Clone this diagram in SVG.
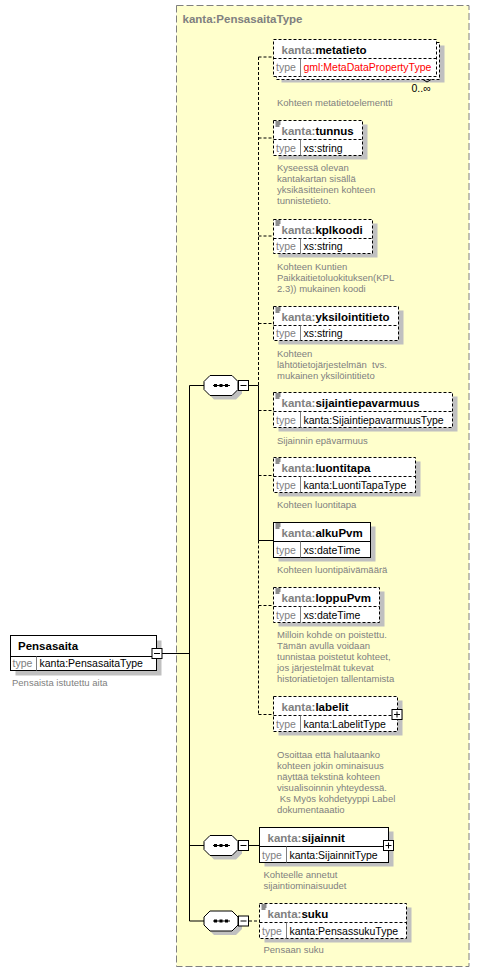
<svg xmlns="http://www.w3.org/2000/svg" width="480" height="973" viewBox="0 0 480 973">
<style>
text{font-family:"Liberation Sans",Arial,sans-serif}
.bg{fill:#ffffff}
.frame{fill:#ffffcc;stroke:#808080;stroke-width:1;stroke-dasharray:7,3}
.title{font-size:11.5px;font-weight:bold;fill:#808080}
.sh{fill:#c0c0c0}
.box{fill:#ffffff;stroke:#000000;stroke-width:1}
.opt{stroke-dasharray:3,2}
.ln{stroke:#000000;stroke-width:1;fill:none}
.dl{stroke:#000000;stroke-width:1;fill:none;stroke-dasharray:3,2}
.sep{stroke:#000000;stroke-width:1}
.csep{stroke:#808080;stroke-width:1}
.hd{font-size:11.5px;font-weight:bold;fill:#000000}
.ns{fill:#808080}
.tl{font-size:10.5px;fill:#808080}
.tv{font-size:10.5px;fill:#000000}
.red{fill:#ff0000}
.ds{font-size:9.5px;fill:#808080}
.mul{font-size:10.5px;fill:#000000}
.ic{stroke:#000000;stroke-width:0.9}
.oct{fill:#ffffff;stroke:#000000;stroke-width:1}
.octsh{fill:#c0c0c0}
</style>
<defs>
<g id="icon"><line class="ic" x1="0" y1="0.5" x2="5" y2="0.5"/><line class="ic" x1="0" y1="2.5" x2="5" y2="2.5"/><line class="ic" x1="0" y1="4.5" x2="4" y2="4.5"/></g>
<g id="seq">
<polygon class="octsh" points="10,4 32,4 38,10 38,18 32,24 10,24 4,18 4,10"/>
<polygon class="oct" points="6,0 28,0 34,6 34,14 28,20 6,20 0,14 0,6"/>
<line class="ln" x1="9" y1="10" x2="26" y2="10"/>
<rect x="10" y="8.5" width="3" height="3" fill="#000"/>
<rect x="15.5" y="8.5" width="3" height="3" fill="#000"/>
<rect x="21" y="8.5" width="3" height="3" fill="#000"/>
<rect class="box" x="34.5" y="5" width="10" height="10"/>
<line class="ln" x1="36.5" y1="10" x2="42.5" y2="10"/>
</g>
<g id="minus"><rect class="box" x="-5" y="-5" width="10" height="10"/><line class="ln" x1="-3" y1="0" x2="3" y2="0"/></g>
<g id="plus"><rect class="box" x="-5" y="-5" width="10" height="10"/><line class="ln" x1="-3" y1="0" x2="3" y2="0"/><line class="ln" x1="0" y1="-3" x2="0" y2="3"/></g>
</defs>
<rect class="bg" x="0" y="0" width="480" height="973"/>
<g id="complexType">
<rect class="frame" x="176.5" y="5.5" width="292.5" height="961"/>
<text class="title" x="182.5" y="23">kanta:PensasaitaType</text>
</g>

<g id="connectors">
<line class="ln" x1="162" y1="653.5" x2="189.5" y2="653.5"/>
<line class="ln" x1="189.5" y1="385.5" x2="189.5" y2="921"/>
<line class="ln" x1="189.5" y1="385.5" x2="204" y2="385.5"/>
<line class="ln" x1="189.5" y1="845.5" x2="204" y2="845.5"/>
<line class="ln" x1="189.5" y1="921" x2="204" y2="921"/>
<line class="ln" x1="249" y1="385.5" x2="258.5" y2="385.5"/>
<line class="dl" x1="258.5" y1="57" x2="258.5" y2="385.5"/>
<line class="ln" x1="258.5" y1="385.5" x2="258.5" y2="540.5"/>
<line class="dl" x1="258.5" y1="540.5" x2="258.5" y2="714.5"/>
<line class="dl" x1="258.5" y1="57" x2="273.5" y2="57"/>
<line class="dl" x1="258.5" y1="138" x2="273.5" y2="138"/>
<line class="dl" x1="258.5" y1="236" x2="273.5" y2="236"/>
<line class="dl" x1="258.5" y1="323.5" x2="273.5" y2="323.5"/>
<line class="dl" x1="258.5" y1="410.5" x2="273.5" y2="410.5"/>
<line class="dl" x1="258.5" y1="475.5" x2="273.5" y2="475.5"/>
<line class="ln" x1="258.5" y1="540.5" x2="273.5" y2="540.5"/>
<line class="dl" x1="258.5" y1="605.5" x2="273.5" y2="605.5"/>
<line class="dl" x1="258.5" y1="714.5" x2="273.5" y2="714.5"/>
<line class="ln" x1="249" y1="845.5" x2="259.5" y2="845.5"/>
<line class="dl" x1="249" y1="921" x2="259.5" y2="921"/>
</g>

<g id="seq1"><use href="#seq" x="204" y="375.5"/></g>
<g id="seq2"><use href="#seq" x="204" y="835.5"/></g>
<g id="seq3"><use href="#seq" x="204" y="911"/></g>

<g id="Pensasaita">
<rect class="sh" x="15.5" y="640.5" width="146" height="35"/>
<rect class="box" x="10.5" y="635.5" width="146" height="35"/>
<line class="sep" x1="10.5" y1="656.5" x2="156.5" y2="656.5"/>
<line class="csep" x1="36.5" y1="656.5" x2="36.5" y2="670.5"/>
<text class="hd" x="18" y="650">Pensasaita</text>
<text class="tl" x="12.5" y="667">type</text>
<text class="tv" x="39.5" y="667">kanta:PensasaitaType</text>
<use href="#minus" x="157" y="653.5"/>
<text class="ds" x="12" y="685.5">Pensaista istutettu aita</text>
</g>

<g id="metatieto">
<rect class="sh" x="281.5" y="45.5" width="163" height="37"/>
<rect class="box opt" x="276.5" y="42.5" width="163" height="37"/>
<rect class="box opt" x="273.5" y="39.5" width="163" height="37"/>
<line class="sep opt" x1="273.5" y1="58.5" x2="436.5" y2="58.5"/>
<line class="csep" x1="300.5" y1="58.5" x2="300.5" y2="76.5"/>
<text class="hd" x="281.5" y="53.5"><tspan class="ns">kanta:</tspan>metatieto</text>
<text class="tl" x="276" y="71">type</text>
<text class="tv red" x="303.5" y="71">gml:MetaDataPropertyType</text>
<polyline class="ln" points="423,79.5 427,82 431,79.5"/>
<text class="mul" x="411.5" y="91.5">0..∞</text>
<text class="ds" x="277" y="105.5">Kohteen metatietoelementti</text>
</g>

<g id="tunnus">
<rect class="sh" x="278.5" y="124.5" width="89" height="35"/>
<rect class="box opt" x="273.5" y="120.5" width="89" height="35"/>
<line class="sep opt" x1="273.5" y1="139.5" x2="362.5" y2="139.5"/>
<line class="csep" x1="300.5" y1="139.5" x2="300.5" y2="155.5"/>
<use href="#icon" x="275.5" y="121.5"/>
<text class="hd" x="281.5" y="134.5"><tspan class="ns">kanta:</tspan>tunnus</text>
<text class="tl" x="276" y="152">type</text>
<text class="tv" x="303.5" y="152">xs:string</text>
<text class="ds"><tspan x="277" y="171">Kyseessä olevan</tspan><tspan x="277" y="182">kantakartan sisällä</tspan><tspan x="277" y="193">yksikäsitteinen kohteen</tspan><tspan x="277" y="204">tunnistetieto.</tspan></text>
</g>

<g id="kplkoodi">
<rect class="sh" x="278.5" y="223.5" width="99" height="34"/>
<rect class="box opt" x="273.5" y="219.5" width="99" height="34"/>
<line class="sep opt" x1="273.5" y1="238.5" x2="372.5" y2="238.5"/>
<line class="csep" x1="300.5" y1="238.5" x2="300.5" y2="253.5"/>
<use href="#icon" x="275.5" y="220.5"/>
<text class="hd" x="281.5" y="233.5"><tspan class="ns">kanta:</tspan>kplkoodi</text>
<text class="tl" x="276" y="250">type</text>
<text class="tv" x="303.5" y="250">xs:string</text>
<text class="ds"><tspan x="277" y="269.5">Kohteen Kuntien</tspan><tspan x="277" y="280.5">Paikkaitietoluokituksen(KPL</tspan><tspan x="277" y="291.5">2.3)) mukainen koodi</tspan></text>
</g>

<g id="yksilointitieto">
<rect class="sh" x="278.5" y="310.5" width="125" height="34"/>
<rect class="box opt" x="273.5" y="306.5" width="125" height="34"/>
<line class="sep opt" x1="273.5" y1="325.5" x2="398.5" y2="325.5"/>
<line class="csep" x1="300.5" y1="325.5" x2="300.5" y2="340.5"/>
<use href="#icon" x="275.5" y="307.5"/>
<text class="hd" x="281.5" y="320.5"><tspan class="ns">kanta:</tspan>yksilointitieto</text>
<text class="tl" x="276" y="337">type</text>
<text class="tv" x="303.5" y="337">xs:string</text>
<text class="ds" xml:space="preserve"><tspan x="277" y="356.5">Kohteen</tspan><tspan x="277" y="367.5">lähtötietojärjestelmän  tvs.</tspan><tspan x="277" y="378.5">mukainen yksilöintitieto</tspan></text>
</g>

<g id="sijaintiepavarmuus">
<rect class="sh" x="278.5" y="396.5" width="179" height="35"/>
<rect class="box opt" x="273.5" y="392.5" width="179" height="35"/>
<line class="sep opt" x1="273.5" y1="411.5" x2="452.5" y2="411.5"/>
<line class="csep" x1="300.5" y1="411.5" x2="300.5" y2="427.5"/>
<use href="#icon" x="275.5" y="393.5"/>
<text class="hd" x="281.5" y="406.5"><tspan class="ns">kanta:</tspan>sijaintiepavarmuus</text>
<text class="tl" x="276" y="424">type</text>
<text class="tv" x="303.5" y="424">kanta:SijaintiepavarmuusType</text>
<text class="ds" x="277" y="443.5">Sijainnin epävarmuus</text>
</g>

<g id="luontitapa">
<rect class="sh" x="278.5" y="461.5" width="142" height="35"/>
<rect class="box opt" x="273.5" y="457.5" width="142" height="35"/>
<line class="sep opt" x1="273.5" y1="476.5" x2="415.5" y2="476.5"/>
<line class="csep" x1="300.5" y1="476.5" x2="300.5" y2="492.5"/>
<use href="#icon" x="275.5" y="458.5"/>
<text class="hd" x="281.5" y="471.5"><tspan class="ns">kanta:</tspan>luontitapa</text>
<text class="tl" x="276" y="489">type</text>
<text class="tv" x="303.5" y="489">kanta:LuontiTapaType</text>
<text class="ds" x="277" y="508">Kohteen luontitapa</text>
</g>

<g id="alkuPvm">
<rect class="sh" x="278.5" y="526.5" width="97" height="35"/>
<rect class="box" x="273.5" y="522.5" width="97" height="35"/>
<line class="sep" x1="273.5" y1="541.5" x2="370.5" y2="541.5"/>
<line class="csep" x1="300.5" y1="541.5" x2="300.5" y2="557.5"/>
<use href="#icon" x="275.5" y="523.5"/>
<text class="hd" x="281.5" y="536.5"><tspan class="ns">kanta:</tspan>alkuPvm</text>
<text class="tl" x="276" y="554">type</text>
<text class="tv" x="303.5" y="554">xs:dateTime</text>
<text class="ds" x="277" y="573">Kohteen luontipäivämäärä</text>
</g>

<g id="loppuPvm">
<rect class="sh" x="278.5" y="591.5" width="106" height="35"/>
<rect class="box opt" x="273.5" y="587.5" width="106" height="35"/>
<line class="sep opt" x1="273.5" y1="606.5" x2="379.5" y2="606.5"/>
<line class="csep" x1="300.5" y1="606.5" x2="300.5" y2="622.5"/>
<use href="#icon" x="275.5" y="588.5"/>
<text class="hd" x="281.5" y="601.5"><tspan class="ns">kanta:</tspan>loppuPvm</text>
<text class="tl" x="276" y="619">type</text>
<text class="tv" x="303.5" y="619">xs:dateTime</text>
<text class="ds"><tspan x="277" y="637.5">Milloin kohde on poistettu.</tspan><tspan x="277" y="648.5">Tämän avulla voidaan</tspan><tspan x="277" y="659.5">tunnistaa poistetut kohteet,</tspan><tspan x="277" y="670.5">jos järjestelmät tukevat</tspan><tspan x="277" y="681.5">historiatietojen tallentamista</tspan></text>
</g>

<g id="labelit">
<rect class="sh" x="278.5" y="700.5" width="124" height="35"/>
<rect class="box opt" x="273.5" y="696.5" width="124" height="35"/>
<line class="sep opt" x1="273.5" y1="715.5" x2="397.5" y2="715.5"/>
<line class="csep" x1="300.5" y1="715.5" x2="300.5" y2="731.5"/>
<text class="hd" x="281.5" y="710.5"><tspan class="ns">kanta:</tspan>labelit</text>
<text class="tl" x="276" y="728">type</text>
<text class="tv" x="303.5" y="728">kanta:LabelitType</text>
<use href="#plus" x="397" y="714.5"/>
<text class="ds" xml:space="preserve"><tspan x="277" y="757.5">Osoittaa että halutaanko</tspan><tspan x="277" y="768.5">kohteen jokin ominaisuus</tspan><tspan x="277" y="779.5">näyttää tekstinä kohteen</tspan><tspan x="277" y="790.5">visualisoinnin yhteydessä.</tspan><tspan x="277" y="801.5"> Ks Myös kohdetyyppi Label</tspan><tspan x="277" y="812.5">dokumentaaatio</tspan></text>
</g>

<g id="sijainnit">
<rect class="sh" x="264.5" y="831.5" width="129" height="35"/>
<rect class="box" x="259.5" y="827.5" width="129" height="35"/>
<line class="sep" x1="259.5" y1="846.5" x2="388.5" y2="846.5"/>
<line class="csep" x1="286.5" y1="846.5" x2="286.5" y2="862.5"/>
<text class="hd" x="267.5" y="841.5"><tspan class="ns">kanta:</tspan>sijainnit</text>
<text class="tl" x="262" y="859">type</text>
<text class="tv" x="289.5" y="859">kanta:SijainnitType</text>
<use href="#plus" x="388.5" y="845.5"/>
<text class="ds"><tspan x="263.5" y="877.5">Kohteelle annetut</tspan><tspan x="263.5" y="888.5">sijaintiominaisuudet</tspan></text>
</g>

<g id="suku">
<rect class="sh" x="264.5" y="907.5" width="147" height="35"/>
<rect class="box opt" x="259.5" y="903.5" width="147" height="35"/>
<line class="sep opt" x1="259.5" y1="922.5" x2="406.5" y2="922.5"/>
<line class="csep" x1="286.5" y1="922.5" x2="286.5" y2="938.5"/>
<use href="#icon" x="261.5" y="904.5"/>
<text class="hd" x="267.5" y="917.5"><tspan class="ns">kanta:</tspan>suku</text>
<text class="tl" x="262" y="935">type</text>
<text class="tv" x="289.5" y="935">kanta:PensassukuType</text>
<text class="ds" x="263.5" y="953">Pensaan suku</text>
</g>
</svg>
